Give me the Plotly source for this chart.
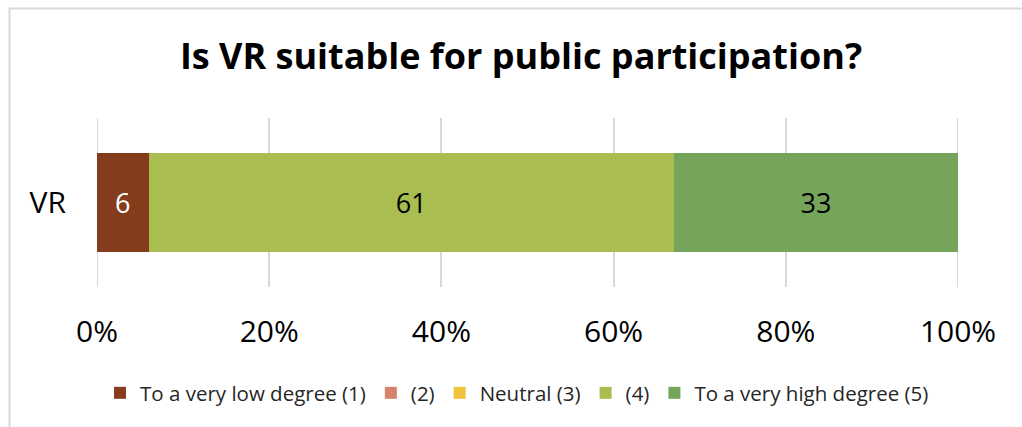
import plotly.graph_objects as go

# Survey answers (percent of respondents)
category = ["VR"]
series_names = [
    "To a very low degree (1)",
    "(2)",
    "Neutral (3)",
    "(4)",
    "To a very high degree (5)",
]
series_values = [[6], [0], [0], [61], [33]]
series_colors = ["#843C1C", "#D7826C", "#F0C33C", "#A9BD50", "#75A55B"]
label_colors = ["white", "black", "black", "black", "black"]
tick_values = [0, 20, 40, 60, 80, 100]

W, H = 1022, 427
ML, MR, MT, MB = 97, 64, 118, 140

fig = go.Figure()
for name, vals, col, lc in zip(series_names, series_values, series_colors, label_colors):
    fig.add_trace(go.Bar(
        y=category,
        x=vals,
        name=name,
        orientation="h",
        marker=dict(color=col, line=dict(width=0)),
        text=[str(v) if v else "" for v in vals],
        textposition="inside",
        insidetextanchor="middle",
        textfont=dict(family="Open Sans", size=27, color=lc),
        hoverinfo="x+name",
    ))

pw = W - ML - MR
ph = H - MT - MB
# light frame around the chart area
fig.add_shape(
    type="rect", xref="paper", yref="paper",
    x0=(9.5 - ML) / pw, x1=(W + 40 - ML) / pw,
    y0=-(H + 40 - (H - MB)) / ph, y1=((H - MB) - 8.5) / ph,
    line=dict(color="#D9D9D9", width=2), fillcolor="rgba(0,0,0,0)", layer="below",
)
# gridlines at the two ends of the value axis
for xv in (tick_values[0], tick_values[-1]):
    fig.add_shape(
        type="line", xref="x", yref="paper", x0=xv, x1=xv, y0=0, y1=1,
        line=dict(color="#D9D9D9", width=2), layer="below",
    )

fig.update_layout(
    width=W, height=H,
    margin=dict(l=ML, r=MR, t=MT, b=MB, autoexpand=False),
    barmode="stack",
    bargap=0.414,
    paper_bgcolor="white",
    plot_bgcolor="white",
    font=dict(family="Open Sans", color="black"),
    title=dict(
        text="<b>Is VR suitable for public participation?</b>",
        x=521 / W, xref="container", xanchor="center",
        y=1 - 56 / H, yref="container", yanchor="middle",
        font=dict(family="Open Sans", size=36, color="black"),
    ),
    xaxis=dict(
        range=[0, 100],
        tickvals=tick_values,
        ticktext=[f"{v}%" for v in tick_values],
        showgrid=True, gridcolor="#D9D9D9", gridwidth=2,
        zeroline=False, showline=False,
        ticks="", ticklabelstandoff=24,
        tickfont=dict(family="Open Sans", size=30, color="black"),
        fixedrange=True,
    ),
    yaxis=dict(
        showgrid=False, zeroline=False, showline=False,
        ticks="", ticklabelstandoff=30,
        tickfont=dict(family="Open Sans", size=30, color="black"),
        fixedrange=True,
    ),
    legend=dict(
        orientation="h",
        x=517 / W, xref="container", xanchor="center",
        y=1 - 393 / H, yref="container", yanchor="middle",
        font=dict(family="Open Sans", size=20.5, color="#262626"),
        traceorder="normal",
        itemwidth=30,
    ),
    showlegend=True,
)

fig.write_html("out.html")
